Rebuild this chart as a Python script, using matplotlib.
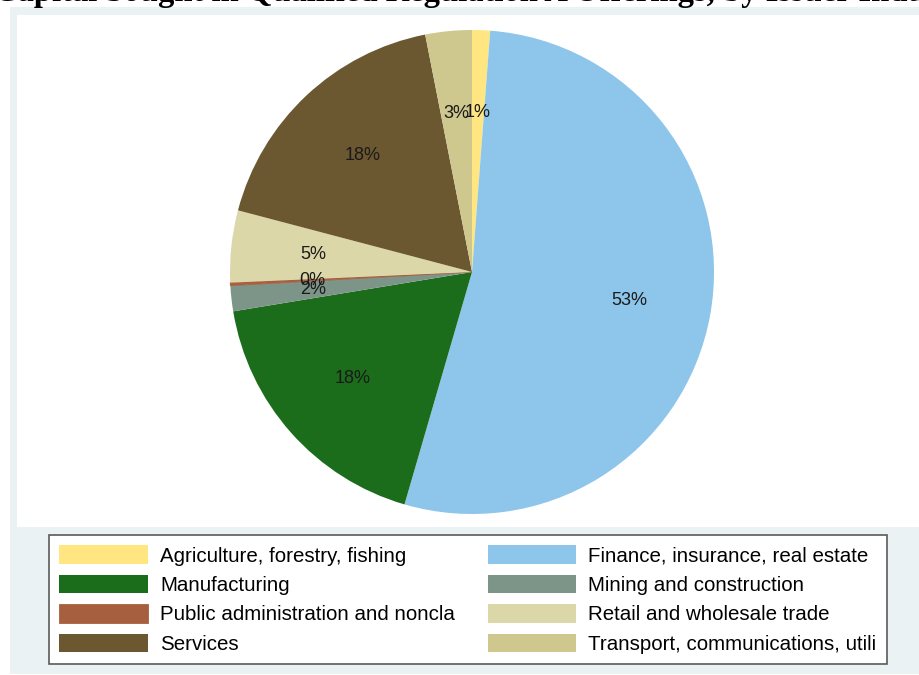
import matplotlib.pyplot as plt
from matplotlib.patches import Rectangle

# Share of capital sought, by issuer industry (percent)
industries = [
    "Agriculture, forestry, fishing",
    "Finance, insurance, real estate",
    "Manufacturing",
    "Mining and construction",
    "Public administration and noncla",
    "Retail and wholesale trade",
    "Services",
    "Transport, communications, utili",
]
shares = [1.2, 53.3, 17.9, 1.7, 0.2, 4.8, 17.8, 3.1]
colors = ["#ffe680", "#8ec5ea", "#1b6d1b", "#7d9488",
          "#a6603f", "#dcd7a9", "#6b5730", "#cec78e"]

W, H = 920, 675
fig = plt.figure(figsize=(W / 100, H / 100), dpi=100)
fig.patch.set_facecolor("white")

def px_box(x0, y0, x1, y1):
    # pixel box (top-left origin) -> figure fraction rect
    return [x0 / W, 1 - y1 / H, (x1 - x0) / W, (y1 - y0) / H]

# graph region and plot region backgrounds
for (x0, y0, x1, y1), fc in [((10, 7, 925, 674), "#eaf2f3"),
                             ((17, 15, 925, 527), "white")]:
    r = px_box(x0, y0, x1, y1)
    fig.patches.append(Rectangle((r[0], r[1]), r[2], r[3], transform=fig.transFigure,
                                 facecolor=fc, edgecolor="none", zorder=-5))

fig.text(-6 / W, 1 - 0.5 / H,
         "Capital Sought in Qualified Regulation A Offerings, by Issuer Industry",
         family="Liberation Serif", fontweight="bold", fontsize=23.5,
         ha="left", va="baseline")

cx, cy, r = 472, 272, 242
ax = fig.add_axes(px_box(cx - r, cy - r, cx + r, cy + r))
ax.set_zorder(2)
wedges, texts, autotexts = ax.pie(
    shares, colors=colors, startangle=90, counterclock=False,
    autopct="%1.0f%%", pctdistance=0.66, radius=1,
    wedgeprops=dict(linewidth=0.6, edgecolor="none"),
    textprops=dict(family="Liberation Sans", fontsize=13, color="#1a1a1a"))
wedges[4].set_edgecolor(colors[4])
ax.set_xlim(-1, 1)
ax.set_ylim(-1, 1)
ax.axis("off")

# legend fills row by row: reorder for matplotlib's column-major layout
order = [0, 2, 4, 6, 1, 3, 5, 7]
leg = fig.legend([wedges[i] for i in order], [industries[i] for i in order],
                 ncol=2, loc="upper left", borderaxespad=0,
                 bbox_to_anchor=(49 / W, 1 - 535 / H),
                 prop=dict(family="Liberation Sans", size=14.8),
                 handlelength=4.3, handleheight=1.0, handletextpad=0.6,
                 columnspacing=1.6, labelspacing=0.45, borderpad=0.5,
                 fancybox=False, framealpha=1, edgecolor="#5a5a5a")
leg.get_frame().set_linewidth(1.2)
leg.set_zorder(3)

fig.savefig("out.png", dpi=100)
